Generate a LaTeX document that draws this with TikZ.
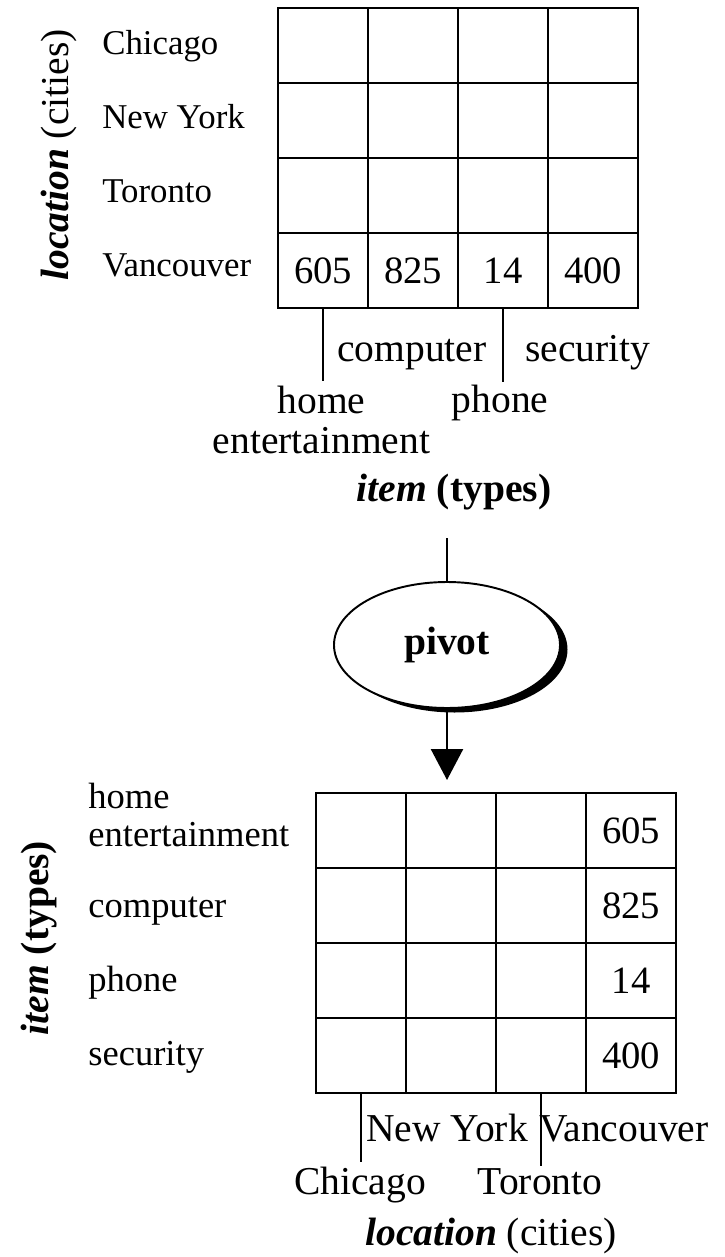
\documentclass[tikz,border=0pt]{standalone}
\usepackage{fontspec}
\setmainfont{Liberation Serif}
\usetikzlibrary{shapes.geometric,shadows,arrows.meta}

\newcommand{\lblsize}{\fontsize{22.5}{22.7}\selectfont}
\newcommand{\topsize}{\fontsize{19.8}{19.8}\selectfont}
\newcommand{\botsize}{\fontsize{20.8}{21.5}\selectfont}
\newcommand{\numsize}{\fontsize{22}{22}\selectfont}

\begin{document}
\begin{tikzpicture}
  \useasboundingbox (0,0) rectangle (14.48,-25.14);
  % Define style for cell
  \tikzstyle{cell} = [draw, rectangle, minimum width=1.8cm, minimum height=1.5cm, line width=1.3pt, font=\numsize]
  \tikzstyle{rowlbl} = [anchor=west, inner sep=0pt, text height=13.5pt, text depth=4.5pt]
  \tikzstyle{axlbl} = [inner sep=0pt, text height=15pt, text depth=5.5pt, font=\lblsize]
  \tikzstyle{tick} = [line width=1.1pt]

  % Draw the first table
  \foreach \row in {1,...,4} {
    \foreach \col/\val in {1/605,2/825,3/14,4/400} {
      \node(a\col\row)[cell] at (4.66+\col*1.8, 0.59-\row*1.5) {
      \ifnum\row=4
      	\val
      \fi
      };
    }
  }
  \foreach \row/\city in {1/Chicago,2/New York,3/Toronto,4/Vancouver} {
    \node(arow\row)[rowlbl, font=\topsize] at (2.04, 0.55-\row*1.48) {\city};
  }
  \node(aaxis)[axlbl, rotate=90] at (1.2,-3.1) {\textbf{\textit{location}} (cities)};

  % Item labels under the first table
  \draw[tick] (a14.south) -- ++(0,-1.44);
  \draw[tick] (a34.south) -- ++(0,-1.46);
  \node(acomp)[axlbl] at (8.24,-7.06) {computer};
  \node(asec)[axlbl] at (11.76,-7.06) {security};
  \node(aphone)[axlbl] at (10.0,-8.08) {phone};
  \node(ahome)[align=center, inner sep=0pt, font=\lblsize] at (6.43,-8.4) {home\\entertainment};
  \node(aitem)[axlbl] at (9.08,-9.86) {\textbf{\textit{item} (types)}};

  % Pivot
  \coordinate (pin) at (8.94,-10.76);
  \coordinate (pout) at (8.94,-15.6);
  \node(pivot)[draw, ellipse, fill=white, line width=1.1pt, minimum width=4.52cm, minimum height=2.52cm, inner sep=0pt,
    general shadow={fill=black, shadow xshift=0.15cm, shadow yshift=-0.09cm}, font=\lblsize\bfseries] at (8.94,-12.9) {pivot};
  \draw[line width=1.2pt] (pin) -- (pivot);
  \draw[line width=1.4pt, -{Triangle[width=0.64cm,length=0.62cm]}] (pivot) -- (pout);

  % Draw the second table
  \foreach \col in {1,...,4} {
    \foreach \row/\val in {1/605,2/825,3/14,4/400} {
      \node(b\col\row)[cell] at (5.42+\col*1.8, -15.11-\row*1.5) {
      \ifnum\col=4
      	\val
      \fi
      };
    }
  }
  \node(brow1)[anchor=west, align=left, inner sep=0pt, font=\botsize] at (1.76,-16.3) {home\\entertainment};
  \foreach \row/\kind in {2/computer,3/phone,4/security} {
    \node(brow\row)[rowlbl, font=\botsize] at (1.76, -15.23-\row*1.48) {\kind};
  }
  \node(baxis)[axlbl, rotate=90] at (0.8,-18.76) {\textbf{\textit{item} (types)}};

  % City labels under the second table
  \draw[tick] (b14.south) -- ++(0,-1.36);
  \draw[tick] (b34.south) -- ++(0,-1.44);
  \node(bny)[axlbl] at (8.94,-22.66) {New York};
  \node(bvan)[axlbl] at (12.48,-22.66) {Vancouver};
  \node(bchi)[axlbl] at (7.2,-23.72) {Chicago};
  \node(btor)[axlbl] at (10.8,-23.72) {Toronto};
  \node(bloc)[axlbl] at (9.82,-24.74) {\textbf{\textit{location}} (cities)};
\end{tikzpicture}
\end{document}
